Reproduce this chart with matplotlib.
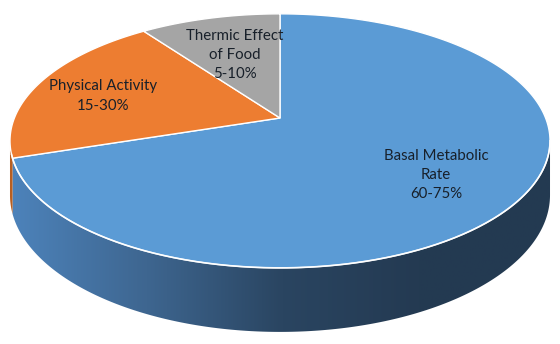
import numpy as np
import matplotlib
matplotlib.use("Agg")
import matplotlib.pyplot as plt
from matplotlib.patches import Polygon
from matplotlib.colors import LinearSegmentedColormap

# ---- data ----
categories = ["Basal Metabolic\nRate\n60-75%", "Physical Activity\n15-30%", "Thermic Effect\nof Food\n5-10%"]
values = [70, 20, 10]
colors = ["#5B9BD5", "#ED7D31", "#A5A5A5"]
side_colors = ["#4d83bb", "#3e6690", "#2a4561", "#243a52", "#233a51"]
orange_side = "#b85f22"

# ---- layout (pixel space) ----
W, H = 560, 344
cx, cy = 280, 118          # projected pie centre (vertex)
Sx, Sy = 265.6, 122.9      # horizontal / vertical scale
k = 0.18                   # perspective strength
D = 52.5                   # depth

fig = plt.figure(figsize=(W / 100, H / 100), dpi=100)
ax = fig.add_axes([0, 0, 1, 1])
ax.set_xlim(0, W)
ax.set_ylim(H, 0)
ax.axis("off")


def proj(theta_deg, z=0.0, r=1.0):
    t = np.radians(theta_deg)
    w = 1 + k * r * np.sin(t)
    px = cx + Sx * r * np.cos(t) / w
    py = cy - Sy * r * np.sin(t) / w + D * z / w
    return px, py


# slice angles: first slice starts at 12 o'clock, clockwise
total = sum(values)
angles = []
start = 90.0
for v in values:
    span = 360.0 * v / total
    angles.append((start - span, start))  # (low, high) in ccw degrees
    start -= span

sil_lo = 180 + np.degrees(np.arcsin(k))
sil_hi = 360 - np.degrees(np.arcsin(k))

# ---- sides ----
gradient_cmap = LinearSegmentedColormap.from_list("side", side_colors)
for i, (lo, hi) in enumerate(angles):
    for shift in (-360, 0, 360):
        a, b = lo + shift, hi + shift
        s0, s1 = max(a, sil_lo), min(b, sil_hi)
        if s1 > s0:
            th = np.linspace(s0, s1, 300)
            xt, yt = proj(th, 0)
            xb, yb = proj(th[::-1], 1)
            poly = Polygon(np.column_stack([np.r_[xt, xb], np.r_[yt, yb]]),
                           closed=True, facecolor="none", edgecolor="none")
            ax.add_patch(poly)
            if i == 0:
                grad = np.linspace(0, 1, 256)[None, :]
                im = ax.imshow(grad, cmap=gradient_cmap, extent=(10, 555, H, 0),
                               aspect="auto", interpolation="bilinear", zorder=1)
                im.set_clip_path(poly)
            else:
                poly.set_facecolor(orange_side)
                poly.set_zorder(1)

# ---- tops ----
for i, (lo, hi) in enumerate(angles):
    th = np.linspace(lo, hi, 300)
    xs, ys = proj(th, 0)
    pts = np.column_stack([np.r_[cx, xs], np.r_[cy, ys]])
    ax.add_patch(Polygon(pts, closed=True, facecolor=colors[i], edgecolor="white",
                         linewidth=1.0, zorder=2))

# white highlight along front edge
th = np.linspace(sil_lo + 6, sil_hi, 300)
xs, ys = proj(th, 0)
ax.plot(xs, ys, color="white", lw=1.2, zorder=3, alpha=0.9)

# ---- labels ----
label_xy = [(436, 175), (103, 96), (235, 55)]
for txt, (lx, ly) in zip(categories, label_xy):
    ax.text(lx, ly, txt, ha="center", va="center", fontsize=10.8,
            family="Lato", color="#18202a", linespacing=1.5, zorder=5)

fig.savefig("out.png", dpi=100)
